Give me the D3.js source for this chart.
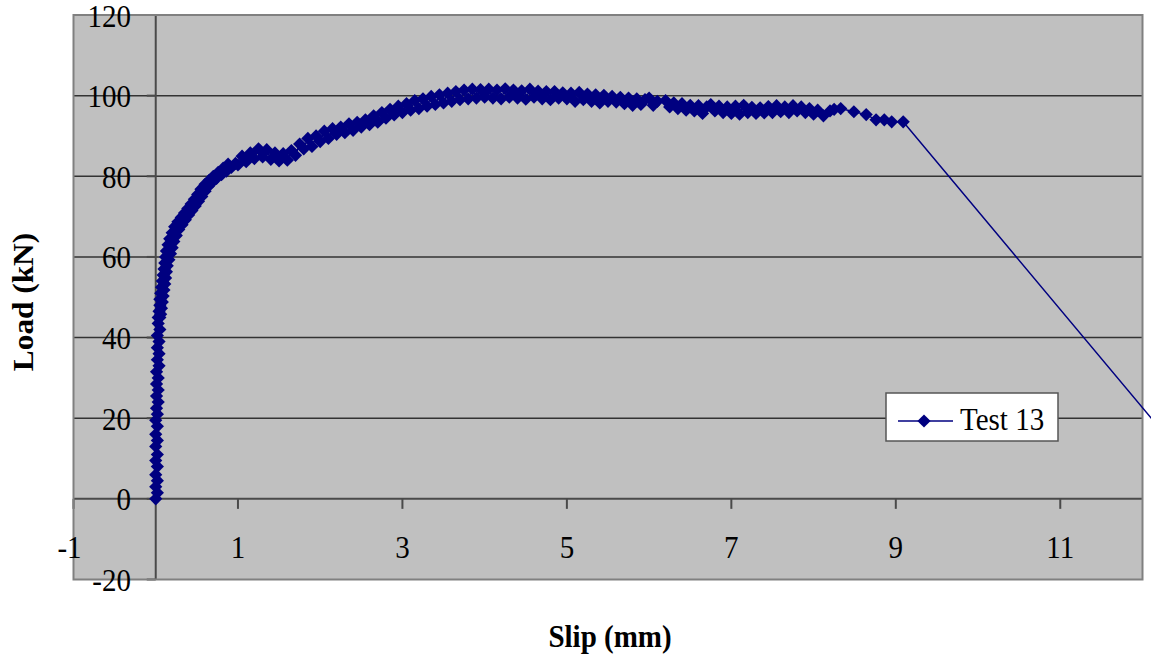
<!DOCTYPE html>
<html><head><meta charset="utf-8">
<script src="https://cdn.jsdelivr.net/npm/d3@7"></script>
<style>
html,body{margin:0;padding:0;background:#fff;}
text{font-family:"Liberation Serif","Times New Roman",serif;fill:#000;}
</style></head>
<body>
<svg id="chart" width="1159" height="666"></svg>
<script>
const slip = [
0,0.02,0,0.02,0,0.02,0,0.02,0,0.02,0,0.02,0,0.02,0.01,0.03,0.01,0.03,0.01,0.03,0.01,0.04,0.02,0.04,0.02,0.04,0.02,0.05,0.03,0.05,
0.03,0.06,0.04,0.07,0.05,0.08,0.05,0.09,0.06,0.1,
0.07,0.11,0.08,0.12,0.09,0.13,0.1,0.14,0.11,0.16,
0.12,0.18,0.13,0.2,0.15,0.22,0.17,0.25,0.2,0.28,
0.23,0.32,0.27,0.36,0.31,0.4,0.35,0.44,0.39,0.48,
0.43,0.52,0.47,0.56,0.51,0.6,0.55,0.64,0.6,0.69,
0.65,0.74,0.7,0.8,0.76,0.86,0.82,0.92,0.88,0.97,
1.0,1.05,1.1,1.15,1.2,1.25,1.3,1.35,1.4,1.45,1.5,1.55,1.6,1.65,1.7,1.75,1.8,1.85,1.9,1.95,
2.0,2.05,2.1,2.15,2.2,2.25,2.3,2.35,2.4,2.45,2.5,2.55,2.6,2.65,2.7,2.75,2.8,2.85,2.9,2.95,
3.0,3.05,3.1,3.15,3.2,3.25,3.3,3.35,3.4,3.45,3.5,3.55,3.6,3.65,3.7,3.75,3.8,3.85,3.9,3.95,
4.0,4.05,4.1,4.15,4.2,4.25,4.3,4.35,4.4,4.45,4.5,4.55,4.6,4.65,4.7,4.75,4.8,4.85,4.9,4.95,
5.0,5.05,5.1,5.15,5.2,5.25,5.3,5.35,5.4,5.45,5.5,5.55,5.6,5.65,5.7,5.75,5.8,5.85,5.9,5.95,
6.0,6.05,6.1,
6.2,6.25,6.3,6.35,6.4,6.45,6.5,6.55,6.6,6.65,6.7,6.75,6.8,6.85,6.9,6.95,
7.0,7.05,7.1,7.15,7.2,7.25,7.3,7.35,7.4,7.45,7.5,7.55,7.6,7.65,7.7,7.75,7.8,7.85,7.9,7.95,
8.0,8.05,8.12,
8.2,8.25,8.33,8.49,8.64,8.76,8.86,8.95,9.09,12.6];
const load = [
0,1.5,3,4.5,6,8,9.5,11,13,14.5,16,18,19.5,21,22.5,24,25.5,27,28.5,30,31.5,33,34.5,36,37.5,39,40.5,42,43.5,45,
45,45.8,46.5,47.3,48,48.8,49.5,50.3,51,51.8,
52.5,53.3,54,54.8,55.5,56.3,57,57.8,58.5,59.3,
60,60.8,61.5,62.3,63,63.8,64.5,65.3,66,66.8,
67.5,68,68.7,69.2,69.8,70.4,70.9,71.5,72,72.6,
73.1,73.8,74.3,75,75.5,76.3,76.8,77.5,78,78.6,
79,79.5,80,80.4,81,81.3,82,82.2,83,83.2,
82.8,85.0,83.6,85.8,84.4,86.8,84.8,86.6,84.2,85.8,83.8,85.6,84.0,86.4,85.2,88.0,86.8,89.4,87.4,90.0,
88.6,91.2,89.4,91.8,90.4,92.2,90.8,93.0,91.4,93.4,92.2,94.0,92.8,95.0,93.4,95.8,94.4,96.6,95.2,97.4,
95.8,98.0,96.4,98.8,96.8,99.2,97.4,99.8,97.8,100.2,98.2,100.6,98.6,101.0,99.0,101.4,99.2,101.6,99.4,101.5,
99.6,101.6,99.4,101.4,99.2,101.7,99.6,101.4,99.4,101.2,99.1,101.6,99.6,101.1,99.2,101.0,99.0,101.0,99.4,100.7,
99.2,100.6,98.6,100.8,99.0,100.4,98.6,100.2,98.2,100.1,98.6,99.8,98.4,99.6,98.0,99.4,97.6,99.2,97.8,99.0,
99.4,97.6,98.6,
98.8,97.2,98.2,96.8,98.0,96.4,97.6,96.2,97.5,95.6,97.2,97.8,96.2,97.4,95.8,97.2,
95.6,97.4,95.4,97.6,95.8,97.1,95.6,97.0,95.7,97.3,95.8,97.5,96.0,97.2,95.8,97.5,96.2,97.2,95.8,96.8,
95.4,96.4,95.0,
96.2,96.6,96.8,96.0,95.3,94.0,94.0,93.5,93.5,8.0];
const xTicks = [-1,1,3,5,7,9,11];
const yTicks = [-20,0,20,40,60,80,100,120];
const seriesName = "Test 13";

const svg = d3.select("#chart");
const L = 73.5, R = 1142.5, T = 15, B = 579.5;
const x = d3.scaleLinear().domain([-1,12]).range([L,R]);
const y = d3.scaleLinear().domain([-20,120]).range([B,T]);
const SY = 1.08;

svg.append("rect").attr("x",L).attr("y",T).attr("width",R-L).attr("height",B-T).attr("fill","#c0c0c0");

svg.append("g").selectAll("line").data(yTicks.filter(d=>d!==0 && d!==-20 && d!==120)).join("line")
  .attr("x1",L).attr("x2",R).attr("y1",d=>y(d)).attr("y2",d=>y(d))
  .attr("stroke","#333").attr("stroke-width",1.5);

svg.append("line").attr("x1",x(0)).attr("x2",x(0)).attr("y1",T).attr("y2",B).attr("stroke","#4a4a4a").attr("stroke-width",2);
svg.append("line").attr("x1",L).attr("x2",R).attr("y1",y(0)).attr("y2",y(0)).attr("stroke","#4a4a4a").attr("stroke-width",2);

svg.append("g").selectAll("line").data(yTicks).join("line")
  .attr("x1",x(0)-9).attr("x2",x(0)).attr("y1",d=>y(d)).attr("y2",d=>y(d))
  .attr("stroke","#4a4a4a").attr("stroke-width",2);
svg.append("g").selectAll("line").data(xTicks).join("line")
  .attr("x1",d=>x(d)).attr("x2",d=>x(d)).attr("y1",y(0)).attr("y2",y(0)+10)
  .attr("stroke","#4a4a4a").attr("stroke-width",2);

svg.append("rect").attr("x",L).attr("y",T).attr("width",R-L).attr("height",B-T)
  .attr("fill","none").attr("stroke","#808080").attr("stroke-width",2);

svg.append("g").selectAll("text").data(yTicks).join("text")
  .attr("transform",d=>`translate(131,${y(d)+11.5}) scale(1,${SY})`)
  .attr("text-anchor","end").attr("font-size",29).text(d=>d);
svg.append("g").selectAll("text").data(xTicks).join("text")
  .attr("transform",d=>`translate(${x(d)-(d<0?4:0)},558) scale(1,${SY})`)
  .attr("text-anchor","middle").attr("font-size",29).text(d=>d);

const pts = slip.map((s,i)=>[s,load[i]]);
svg.append("clipPath").attr("id","clip").append("rect").attr("x",0).attr("y",0).attr("width",1151).attr("height",666);
const g = svg.append("g").attr("clip-path","url(#clip)");
g.append("path").datum(pts).attr("fill","none").attr("stroke","#000080").attr("stroke-width",1.5)
  .attr("d",d3.line().x(d=>x(d[0])).y(d=>y(d[1])));
const dia = "M0,-6.6L6.6,0L0,6.6L-6.6,0Z";
g.append("g").selectAll("path").data(pts).join("path")
  .attr("transform",d=>`translate(${x(d[0])},${y(d[1])})`).attr("d",dia).attr("fill","#000080");

svg.append("text").attr("transform",`translate(610,647) scale(1,${SY})`).attr("text-anchor","middle")
  .attr("font-size",29).attr("font-weight","bold").text("Slip (mm)");
svg.append("text").attr("transform",`translate(33,302) rotate(-90) scale(${SY},1)`).attr("text-anchor","middle")
  .attr("font-size",29).attr("font-weight","bold").text("Load (kN)");

const lg = svg.append("g");
lg.append("rect").attr("x",886).attr("y",393).attr("width",172).attr("height",48).attr("fill","#fff").attr("stroke","#555").attr("stroke-width",1.5);
lg.append("line").attr("x1",898).attr("x2",953).attr("y1",421).attr("y2",421).attr("stroke","#000080").attr("stroke-width",1.5);
lg.append("path").attr("transform","translate(924,421)").attr("d",dia).attr("fill","#000080");
lg.append("text").attr("transform",`translate(960,430) scale(1,${SY})`).attr("font-size",29).text(seriesName);
</script>
</body></html>
